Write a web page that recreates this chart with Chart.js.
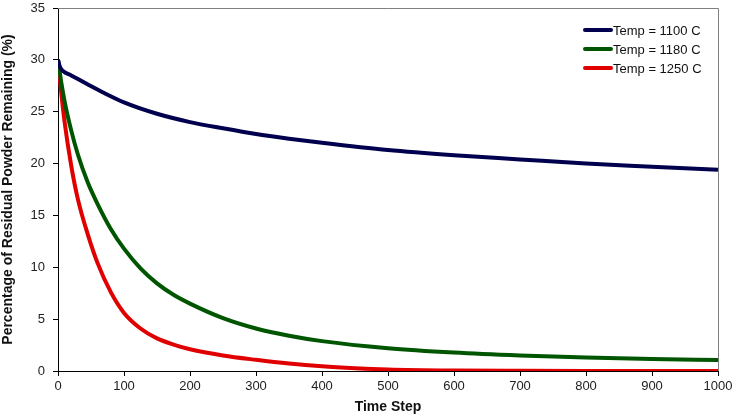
<!DOCTYPE html>
<html>
<head>
<meta charset="utf-8">
<script src="https://cdn.jsdelivr.net/npm/chart.js@4/dist/chart.umd.min.js"></script>
<style>
  html, body { margin: 0; padding: 0; background: #fff; }
  #wrap { width: 734px; height: 416px; }
</style>
</head>
<body>
<div id="wrap"><canvas id="chart" width="734" height="416"></canvas></div>
<script>
// Values (time step, % remaining)
const seriesLabels = ['Temp = 1100 C', 'Temp = 1180 C', 'Temp = 1250 C'];
const seriesColors = ['#00004e', '#005500', '#e00000'];

const steps1100 = [0, 3, 8, 20, 46, 70, 100, 150, 200, 250, 300, 350, 400, 500, 600, 700, 800, 900, 1000];
const vals1100  = [30, 29.3, 28.9, 28.5, 27.6, 26.8, 25.9, 24.8, 24.0, 23.4, 22.85, 22.4, 22.0, 21.3, 20.8, 20.4, 20.0, 19.7, 19.4];

const steps1180 = [0, 5, 10, 20, 30, 45, 60, 80, 100, 125, 150, 175, 200, 250, 300, 350, 400, 500, 600, 700, 800, 900, 1000];
const vals1180  = [30, 27.8, 26.0, 23.2, 20.9, 18.2, 16.1, 13.7, 11.8, 9.9, 8.45, 7.35, 6.5, 5.1, 4.1, 3.4, 2.88, 2.2, 1.78, 1.5, 1.3, 1.15, 1.06];

const steps1250 = [0, 5, 10, 20, 30, 45, 60, 80, 100, 125, 150, 175, 200, 250, 300, 350, 400, 450, 500, 600, 700, 800, 1000];
const vals1250  = [30, 26.8, 24.0, 19.8, 16.6, 13.2, 10.4, 7.6, 5.6, 4.1, 3.15, 2.55, 2.1, 1.5, 1.08, 0.72, 0.45, 0.27, 0.15, 0.05, 0.015, 0, 0];

const xTicks = [0, 100, 200, 300, 400, 500, 600, 700, 800, 900, 1000];
const yTicks = [0, 5, 10, 15, 20, 25, 30, 35];

function toPoints(xs, ys) {
    return xs.map((x, i) => ({ x: x, y: ys[i] }));
}

// Gray border on top/right of plot area plus the inset legend
const framePlugin = {
    id: 'frame',
    afterDraw(chart) {
        const ctx = chart.ctx;
        const a = chart.chartArea;
        ctx.save();
        ctx.strokeStyle = '#808080';
        ctx.lineWidth = 1;
        ctx.beginPath();
        ctx.moveTo(a.left, a.top + 0.5);
        ctx.lineTo(a.right + 0.5, a.top + 0.5);
        ctx.lineTo(a.right + 0.5, a.bottom);
        ctx.stroke();

        ctx.font = '13px "Liberation Sans", Arial, sans-serif';
        ctx.textBaseline = 'middle';
        ctx.textAlign = 'left';
        chart.data.datasets.forEach((ds, i) => {
            const y = 30 + i * 19;
            ctx.strokeStyle = ds.borderColor;
            ctx.lineWidth = 4;
            ctx.lineCap = 'round';
            ctx.beginPath();
            ctx.moveTo(585, y);
            ctx.lineTo(611, y);
            ctx.stroke();
            ctx.fillStyle = '#111';
            ctx.fillText(ds.label, 613, y + 1);
        });
        ctx.restore();
    }
};

const datasets = [
    toPoints(steps1100, vals1100),
    toPoints(steps1180, vals1180),
    toPoints(steps1250, vals1250)
].map((pts, i) => ({
    label: seriesLabels[i],
    data: pts,
    borderColor: seriesColors[i],
    backgroundColor: seriesColors[i],
    borderWidth: 4,
    pointRadius: 0,
    cubicInterpolationMode: 'monotone',
    fill: false
}));

new Chart(document.getElementById('chart'), {
    type: 'line',
    data: { datasets: datasets },
    plugins: [framePlugin],
    options: {
        responsive: false,
        animation: false,
        layout: { padding: { left: 0, right: 16, top: 8, bottom: 0 } },
        plugins: {
            legend: { display: false },
            tooltip: { enabled: false }
        },
        scales: {
            x: {
                type: 'linear',
                min: 0,
                max: 1000,
                afterBuildTicks: function(scale) {
                    scale.ticks = xTicks.map(v => ({ value: v }));
                },
                afterFit: function(scale) {
                    scale.height = 45;
                    scale.paddingLeft = 0;
                    scale.paddingRight = 0;
                },
                border: { color: '#000', width: 1 },
                grid: { drawOnChartArea: false, color: '#000', tickLength: 5 },
                ticks: {
                    color: '#222',
                    padding: 3,
                    maxRotation: 0,
                    callback: function(value) { return String(value); },
                    font: { family: '"Liberation Sans Narrow", "Arial Narrow", Arial, sans-serif', size: 13 }
                },
                title: {
                    display: true,
                    text: 'Time Step',
                    color: '#111',
                    padding: { top: 0, bottom: 0 },
                    font: { family: '"Liberation Sans Narrow", "Arial Narrow", Arial, sans-serif', size: 14, weight: 'bold' }
                }
            },
            y: {
                min: 0,
                max: 35,
                afterBuildTicks: function(scale) {
                    scale.ticks = yTicks.map(v => ({ value: v }));
                },
                afterFit: function(scale) {
                    scale.width = 58;
                    scale.paddingTop = 0;
                    scale.paddingBottom = 0;
                },
                border: { color: '#000', width: 1 },
                grid: { drawOnChartArea: false, color: '#000', tickLength: 5 },
                ticks: {
                    color: '#222',
                    padding: 8,
                    font: { family: '"Liberation Sans", Arial, sans-serif', size: 13 }
                },
                title: {
                    display: true,
                    text: 'Percentage of Residual Powder Remaining (%)',
                    color: '#111',
                    padding: { top: 0, bottom: 0 },
                    font: { family: '"Liberation Sans", Arial, sans-serif', size: 14, weight: 'bold' }
                }
            }
        }
    }
});
</script>
</body>
</html>
